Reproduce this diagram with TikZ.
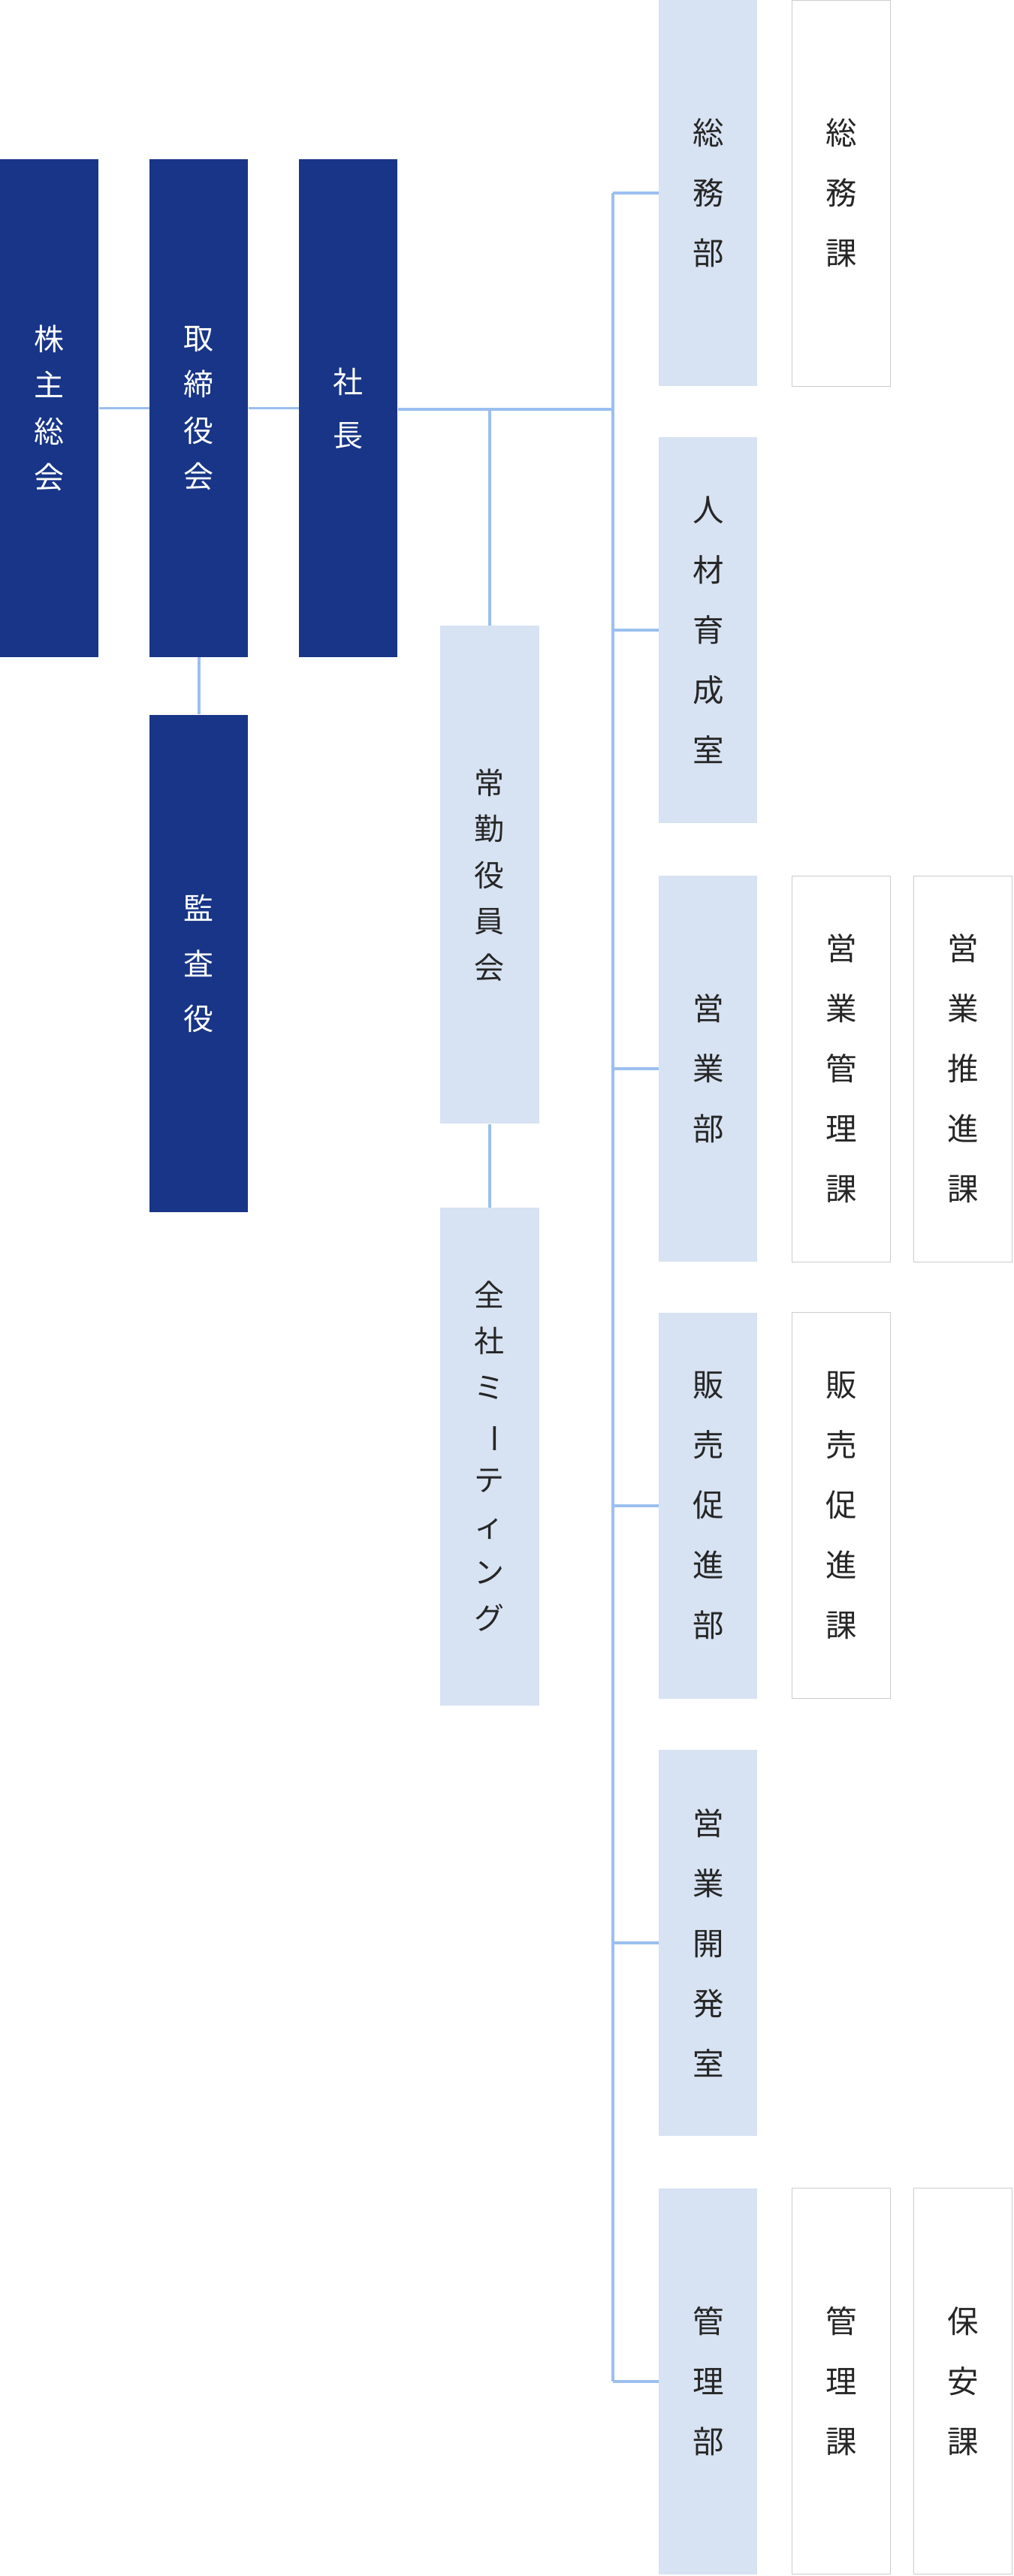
\documentclass[tikz,border=0pt]{standalone}
\usepackage{fontspec}
\usepackage{graphicx}
\setmainfont{Noto Sans CJK JP}
\definecolor{navy}{HTML}{183587}
\definecolor{pale}{HTML}{D7E2F2}
\definecolor{wire}{HTML}{9BBFEF}
\definecolor{rim}{HTML}{CCCCCC}
\tikzset{
  tall/.style={minimum width=3cm, minimum height=15.15cm, inner sep=0pt, align=center,
    font=\fontsize{26}{40}\selectfont},
  dark/.style={tall, fill=navy, text=white},
  soft/.style={tall, fill=pale, text=black!85},
  dept/.style={minimum width=3cm, minimum height=11.75cm, inner sep=0pt, align=center,
    font=\fontsize{27}{52}\selectfont, text=black!85},
  deptbox/.style={dept, fill=pale},
  sect/.style={dept, fill=white, draw=rim, line width=0.6pt},
  link/.style={wire, line width=2.4pt}
}
\begin{document}
\begin{tikzpicture}[x=0.05cm, y=-0.05cm]
\useasboundingbox (0,0) rectangle (617,1568);
% top management
\node[dark] (kabu) at (30,248.5) {株\\主\\総\\会};
\node[dark] (tori) at (121,248.5) {取\\締\\役\\会};
\node[dark, font=\fontsize{26}{46}\selectfont] (shacho) at (212,248.5) {社\\長};
\node[dark, font=\fontsize{26}{48}\selectfont] (kansa) at (121,586.5) {監\\査\\役};
\node[soft] (joukin) at (298,532.5) {常\\勤\\役\\員\\会};
\node[soft] (zensha) at (298,886.5) {全\\社\\ミ\\\rotatebox[origin=c]{-90}{ー}\\テ\\ィ\\ン\\グ};
% departments
\node[deptbox] (soumu) at (431,117.5) {総\\務\\部};
\node[deptbox] (jinzai) at (431,383.5) {人\\材\\育\\成\\室};
\node[deptbox] (eigyo) at (431,650.5) {営\\業\\部};
\node[deptbox] (hanbai) at (431,916.5) {販\\売\\促\\進\\部};
\node[deptbox] (kaihatsu) at (431,1182.5) {営\\業\\開\\発\\室};
\node[deptbox] (kanri) at (431,1449.5) {管\\理\\部};
% sections
\node[sect] (soumuka) at (512,117.5) {総\\務\\課};
\node[sect] (eikanri) at (512,650.5) {営\\業\\管\\理\\課};
\node[sect] (eisuishin) at (586,650.5) {営\\業\\推\\進\\課};
\node[sect] (hanbaika) at (512,916.5) {販\\売\\促\\進\\課};
\node[sect] (kanrika) at (512,1449.5) {管\\理\\課};
\node[sect] (hoanka) at (586,1449.5) {保\\安\\課};
% wiring
\coordinate (trunk) at (373,249);
\draw[link] (kabu) -- (tori);
\draw[link] (tori) -- (shacho);
\draw[link] (shacho.east |- trunk) -- (trunk);
\draw[link] (tori) -- (kansa);
\draw[link] (298,249) -- (joukin);
\draw[link] (joukin) -- (zensha);
\draw[link] (trunk |- soumu) -- (trunk |- kanri);
\foreach \d in {soumu,jinzai,eigyo,hanbai,kaihatsu,kanri}
  \draw[link] (trunk |- \d) -- (\d.west);
\end{tikzpicture}
\end{document}
